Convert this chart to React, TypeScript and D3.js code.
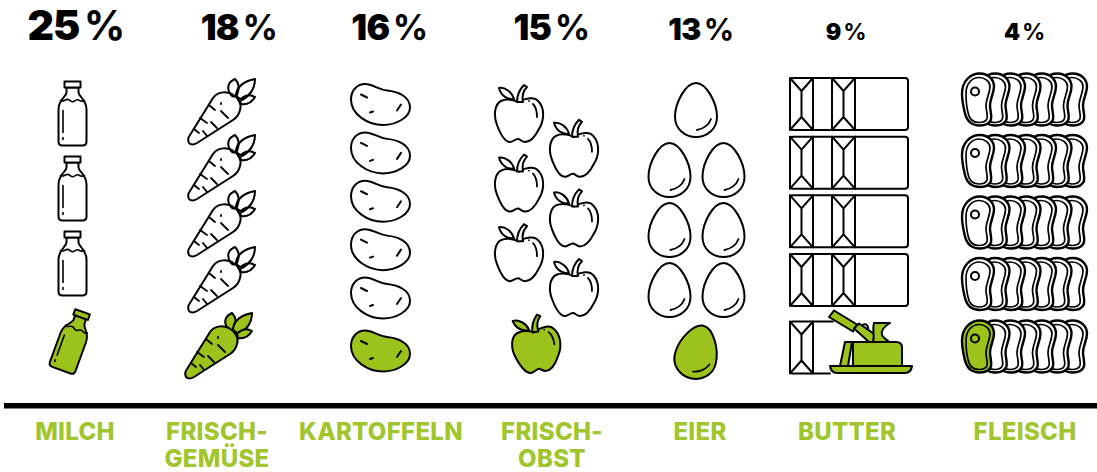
import * as d3 from 'd3';

const categories = ['MILCH', 'FRISCH-\nGEMÜSE', 'KARTOFFELN', 'FRISCH-\nOBST', 'EIER', 'BUTTER', 'FLEISCH'];
const shares = [25, 18, 16, 15, 13, 9, 4];
// how many pictograms each column stacks, the last one is the green one
const iconCounts = [4, 5, 6, 7, 8, 5, 5];

const WIDTH = 1097;
const HEIGHT = 472;
const GREEN = '#9cc31b';
const LABEL_GREEN = '#a0c52d';
const FONT = 'Inter, "Open Sans", sans-serif';

// columns are not evenly spaced in the original, so ordinal scales with a measured range
const headerX = d3.scaleOrdinal<string, number>().domain(categories).range([76, 239, 389.5, 551.5, 701, 846, 1024.5]);
const labelX = d3.scaleOrdinal<string, number>().domain(categories).range([75, 217, 381, 552, 700, 847, 1025]);
const headerSize = d3.scaleLinear().domain([4, 9, 13, 15, 18, 25]).range([23, 23, 30, 35, 35, 41]);

const Ink = ({ d, fill = 'none', w = 2 }: { d: string; fill?: string; w?: number }) => (
  <path d={d} fill={fill} stroke="#000" strokeWidth={w} strokeLinejoin="round" strokeLinecap="round" />
);

const Bottle = ({ fill }: { fill: string }) => (
  <g>
    <Ink
      fill={fill}
      d="M-6,-26V-21C-6,-17 -14,-14 -14,-4V28Q-14,32 -10,32H10Q14,32 14,28V-4C14,-14 6,-17 6,-21V-26Z"
    />
    <Ink fill={fill} d="M-8,-32H8V-26H-8Z" />
    <Ink d="M-12,-13C-9,-11 -7,-15 -4,-14C-2,-13 -1,-11 1,-12C3,-13 5,-15 7,-13C9,-12 10,-12 12,-13" w={1.6} />
    <Ink d="M-9.5,-3V19M-9.5,24V26" w={1.6} />
  </g>
);

const Carrot = ({ fill }: { fill: string }) => (
  <g>
    <Ink fill={fill} d="M9,-17C4,-24 6,-30 13,-33C17,-29 18,-24 15,-17C13,-15 11,-15 9,-17Z" />
    <Ink fill={fill} d="M14,-16C14,-25 22,-31 33,-33C33,-24 28,-16 20,-12Z" />
    <Ink fill={fill} d="M18,-12C22,-17 28,-18 33,-15C30,-10 25,-7 19,-8Z" />
    <Ink
      fill={fill}
      d="M-32,23L-9,-14C-5,-20 3,-21 10,-18C17,-14 20,-7 18,-2C17,3 14,6 11,8L-25,31Q-30,34 -33,31Q-35,27 -32,23Z"
    />
    <Ink d="M-13,-7L-7,-2M-22,6L-15,11M-28,17L-23,21M6,6L-1,-1M-5,16L-11,10M-15,24L-19,19M-1,-9V-8" w={1.8} />
  </g>
);

const Potato = ({ fill }: { fill: string }) => (
  <g>
    <Ink
      fill={fill}
      d="M-29,-5C-29,-15 -22,-20.5 -15,-20.5C-7,-20.5 -2,-15 7,-14C18,-13 30,-8 30,3C30,13 16,20.5 3,20.5C-12,20.5 -29,10 -29,-5Z"
    />
    <Ink d="M-19,-10L-13,-7M17,6L21,0M-10,8L-7,7" />
  </g>
);

const Apple = ({ fill }: { fill: string }) => (
  <g>
    <Ink
      fill={fill}
      d="M0,-11C6,-15 16,-17 20,-11C26,-4 25,8 20,16C16,24 12,29 6,29C3,29 1,26 -1,26C-4,26 -6,29 -9,29C-14,29 -19,20 -22,12C-26,2 -24,-9 -18,-12C-12,-15 -5,-13 0,-11Z"
    />
    <Ink fill={fill} d="M-2,-11C-2,-18 1,-24 5,-28L8,-26C4,-22 3,-16 4,-11Z" />
    <Ink fill={fill} d="M-20,-25C-14,-26 -7,-21 -5,-14C-11,-13 -18,-17 -20,-25Z" />
    <Ink d="M14,-9C17,-6 18,-1 18,4M10,-12V-12" w={1.8} />
  </g>
);

const Egg = ({ fill }: { fill: string }) => (
  <g>
    <Ink
      fill={fill}
      d="M0,-27C10,-27 21,-8 21,7C21,19 11,27 0,27C-11,27 -21,19 -21,7C-21,-8 -10,-27 0,-27Z"
    />
    <Ink d="M1,20C7,19 13,15 15,9" w={1.8} />
  </g>
);

// gable end of a butter pack, x0 is its left edge
const gable = (x0: number) =>
  `M${x0},-26V26M${x0 + 23},-26V26M${x0},-26L${x0 + 11.5},-13V13L${x0},26M${x0 + 23},-26L${x0 + 11.5},-13M${x0 + 11.5},13L${x0 + 23},26`;

const ButterPack = () => (
  <g>
    <Ink fill="#fff" d="M-56,-26H56Q59,-26 59,-23V23Q59,26 56,26H-56Q-59,26 -59,23V-23Q-59,-26 -56,-26Z" />
    <Ink d={gable(-59)} />
    <Ink d={gable(-17)} />
  </g>
);

const ButterDish = () => (
  <g>
    <Ink d="M-57,-26H-16M-57,26H-19" />
    <Ink d="M-59,-24V24" />
    <Ink d={gable(-59)} />
    <Ink d="M13,-22C17,-25 20,-22 19,-16" />
    <Ink fill={GREEN} d="M-20,-30.5L-15,-37L8,-23L4,-16Z" />
    <Ink fill={GREEN} d="M5,-19L10,-24L26,-13L24,-5.5H20Z" />
    <Ink fill={GREEN} d="M24,-5.5C26,-12 23,-18 25,-24.5H41C35,-21 32,-17 33,-13C33,-10 38,-8 40,-5.5Z" />
    <Ink fill={GREEN} d="M-9,18.5L-4,-5.5H3L-1,18.5Z" />
    <Ink fill={GREEN} d="M4,18.5V-5.5H47Q53,-5.5 53,0V18.5Z" />
    <Ink fill={GREEN} d="M-19,18.5H63Q62,25.5 56,25.5H-12Q-18,25.5 -19,18.5Z" />
  </g>
);

const STEAK =
  'M0,-26C8,-26 14,-20 14,-13C14,-6 10,-1 10,6C10,11 12,15 11,20C9,25 4,26 0,26C-8,26 -13,22 -15,14C-17,6 -18,0 -18,-6C-18,-18 -10,-26 0,-26Z';
const STEAK_INNER =
  'M-1,-22C5,-22 10,-18 10,-13C10,-6 6,-1 6,6C6,11 8,15 7,19C6,22 3,23 -1,23C-7,23 -11,19 -12,13C-14,5 -14,0 -14,-6C-14,-16 -8,-22 -1,-22Z';

const MeatRow = ({ green }: { green: boolean }) => {
  const offsets = d3.range(6, -1, -1);
  return (
    <g>
      {offsets.map((o) => (
        <g key={o} transform={`translate(${o * 15.5},0)`}>
          <Ink fill={green && o === 0 ? GREEN : '#fff'} d={STEAK} w={2.4} />
          <Ink d={STEAK_INNER} w={1.7} />
          {o === 0 && <circle cx={-5} cy={-8} r={4} fill="none" stroke="#000" strokeWidth={2} />}
        </g>
      ))}
    </g>
  );
};

export default function App() {
  const milkY = d3.scaleLinear().domain([0, iconCounts[0] - 2]).range([113.5, 263.5]);
  const carrotY = d3.scaleLinear().domain([0, iconCounts[1] - 2]).range([112, 280]);
  const potatoY = d3.scaleLinear().domain([0, iconCounts[2] - 2]).range([104.5, 298]);
  const appleY = d3.scaleLinear().domain([0, iconCounts[3] - 2]).range([113, 287]);
  const eggY = d3.scaleLinear().domain([0, 3]).range([110, 290]);
  const butterY = d3.scaleLinear().domain([0, iconCounts[5] - 2]).range([104, 280]);
  const meatY = d3.scaleLinear().domain([0, iconCounts[6] - 2]).range([99.5, 284]);

  return (
    <svg
      width={WIDTH}
      height={HEIGHT}
      viewBox={`0 0 ${WIDTH} ${HEIGHT}`}
      style={{ position: 'absolute', left: 0, top: 0, background: '#fff' }}
    >
      {/* percentages */}
      {categories.map((c, i) => {
        const size = headerSize(shares[i]);
        return (
          <text
            key={c}
            x={headerX(c)}
            y={39.5}
            textAnchor="middle"
            fontFamily={FONT}
            fontSize={size}
            fontWeight={900}
            fill="#000"
            letterSpacing={-0.02 * size}
          >
            {shares[i]}
            <tspan fontWeight={700} dx={size * 0.1}>%</tspan>
          </text>
        );
      })}

      {/* Milch */}
      {d3.range(iconCounts[0] - 1).map((i) => (
        <g key={i} transform={`translate(72.5,${milkY(i)})`}>
          <Bottle fill="#fff" />
        </g>
      ))}
      <g transform="translate(72,341) rotate(20) scale(0.97)">
        <Bottle fill={GREEN} />
      </g>

      {/* Frischgemüse */}
      {d3.range(iconCounts[1] - 1).reverse().map((i) => (
        <g key={i} transform={`translate(222,${carrotY(i)})`}>
          <Carrot fill="none" />
        </g>
      ))}
      <g transform="translate(219,346)">
        <Carrot fill={GREEN} />
      </g>

      {/* Kartoffeln */}
      {d3.range(iconCounts[2] - 1).map((i) => (
        <g key={i} transform={`translate(380,${potatoY(i)})`}>
          <Potato fill="#fff" />
        </g>
      ))}
      <g transform="translate(380,351)">
        <Potato fill={GREEN} />
      </g>

      {/* Frischobst, two staggered columns */}
      {d3.range(iconCounts[3] - 1).map((i) => (
        <g key={i} transform={`translate(${i % 2 ? 574 : 519},${appleY(i)})`}>
          <Apple fill="#fff" />
        </g>
      ))}
      <g transform="translate(536,343) rotate(-8)">
        <Apple fill={GREEN} />
      </g>

      {/* Eier, one on top and then pairs */}
      <g transform={`translate(696,${eggY(0)})`}>
        <Egg fill="#fff" />
      </g>
      {d3.range(1, 4).map((row) =>
        [669.5, 723.5].map((x) => (
          <g key={`${row}-${x}`} transform={`translate(${x},${eggY(row)})`}>
            <Egg fill="#fff" />
          </g>
        )),
      )}
      <g transform="translate(697,352) rotate(14)">
        <Egg fill={GREEN} />
      </g>

      {/* Butter */}
      {d3.range(iconCounts[5] - 1).map((i) => (
        <g key={i} transform={`translate(849,${butterY(i)})`}>
          <ButterPack />
        </g>
      ))}
      <g transform="translate(849,347.5)">
        <ButterDish />
      </g>

      {/* Fleisch */}
      {d3.range(iconCounts[6] - 1).map((i) => (
        <g key={i} transform={`translate(980,${meatY(i)})`}>
          <MeatRow green={false} />
        </g>
      ))}
      <g transform="translate(980,346.5)">
        <MeatRow green />
      </g>

      {/* baseline */}
      <rect x={4} y={403} width={WIDTH - 4} height={5.5} fill="#000" />

      {/* category labels */}
      {categories.map((c) => (
        <text
          key={c}
          textAnchor="middle"
          fontFamily={FONT}
          fontSize={24}
          fontWeight={800}
          letterSpacing={0.3}
          fill={LABEL_GREEN}
        >
          {c.split('\n').map((line, j) => (
            <tspan key={line} x={labelX(c)} y={440 + j * 26.5}>
              {line}
            </tspan>
          ))}
        </text>
      ))}
    </svg>
  );
}
